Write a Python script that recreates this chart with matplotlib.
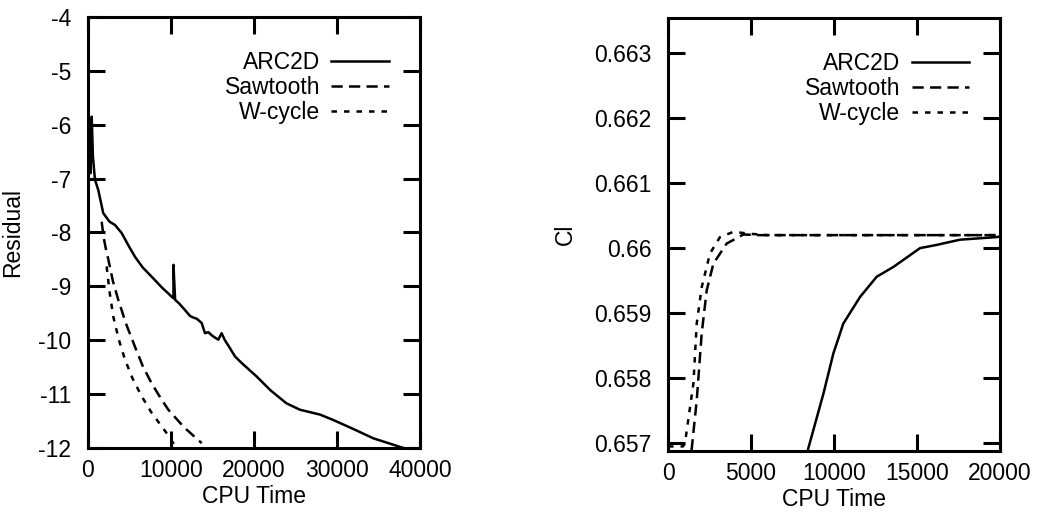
import numpy as np
import matplotlib.pyplot as plt

plt.rcParams["font.family"] = ["Liberation Sans", "DejaVu Sans"]
plt.rcParams["font.size"] = 16.5
plt.rcParams["axes.unicode_minus"] = False

# residual history (left panel)
arc_res_t = [0, 150, 300, 450, 600, 843, 1240, 1840, 2600, 3250, 4060, 4800, 5660, 6600,
             7670, 8900, 10080, 10300, 10300, 10500, 11000, 11690, 12300, 12700, 13100,
             13700, 14100, 14500, 15000, 15700, 15900, 16100, 16500, 17000, 17710,
             18500, 20300, 22000, 23900, 25540, 27950, 29550, 32000, 34370, 38000]
arc_res = [-7.0, -6.1, -6.9, -5.85, -6.6, -7.02, -7.21, -7.64, -7.8, -7.86, -8.01, -8.22, -8.45, -8.65,
           -8.82, -9.02, -9.19, -9.22, -8.6, -9.25, -9.32, -9.44, -9.55, -9.58, -9.6,
           -9.68, -9.87, -9.85, -9.92, -9.99, -9.93, -9.87, -10.0, -10.12, -10.30,
           -10.42, -10.67, -10.93, -11.17, -11.29, -11.38, -11.48, -11.65, -11.82, -12.0]

saw_res_t = [1650, 1900, 2150, 2450, 3000, 3650, 4600, 5660, 6600, 7670, 8700, 9680, 11600, 13700]
saw_res = [-7.8, -8.1, -8.3, -8.5, -8.9, -9.25, -9.7, -10.12, -10.48, -10.8, -11.06, -11.29, -11.62, -11.91]

w_res_t = [2250, 2600, 3050, 3700, 4460, 5400, 6470, 7600, 8880, 9600, 10280, 10600]
w_res = [-8.63, -9.1, -9.56, -9.98, -10.36, -10.72, -11.04, -11.33, -11.6, -11.75, -11.91, -12.0]

# lift coefficient history (right panel)
arc_cl_t = [8200, 8450, 9360, 9960, 10560, 11570, 12570, 13570, 15180, 16190, 17590, 19800, 20000]
arc_cl = [0.6566, 0.65692, 0.65776, 0.65838, 0.65884, 0.65925, 0.65956, 0.65971,
          0.66000, 0.66005, 0.66013, 0.66017, 0.66018]

saw_cl_t = [0, 1300, 1430, 1730, 2030, 2330, 2730, 3530, 4540, 5500, 20000]
saw_cl = [0.6566, 0.6567, 0.65692, 0.65766, 0.65869, 0.65935, 0.65976, 0.66007, 0.66021, 0.6602, 0.6602]

w_cl_t = [0, 900, 1020, 1530, 1730, 2030, 2530, 3130, 3930, 5000, 6000, 20000]
w_cl = [0.65695, 0.65695, 0.657, 0.65792, 0.65884, 0.6594, 0.65992, 0.66017, 0.66025, 0.66022, 0.6602, 0.6602]

labels = ["ARC2D", "Sawtooth", "W-cycle"]
styles = ["-", (0, (4.5, 2.5)), (0, (2.2, 2.8))]


def style_axes(ax):
    for s in ax.spines.values():
        s.set_linewidth(2.2)
    ax.tick_params(direction="in", length=12, width=2.2, top=True, right=True,
                   pad=8, labelsize=16.5)
    ax.tick_params(axis="y", pad=12)


def add_legend(ax):
    ax.legend(loc="upper right", frameon=False, markerfirst=False, handlelength=2.5,
              handletextpad=0.5, labelspacing=0.1, borderaxespad=0.6,
              bbox_to_anchor=(0.975, 0.975), fontsize=16.5)


fig = plt.figure(figsize=(10.51, 5.17), dpi=100)
ax1 = fig.add_axes([0.0837, 0.1335, 0.3159, 0.8336])
ax2 = fig.add_axes([0.6356, 0.1277, 0.3159, 0.8375])

for t, v, lab, ls in zip([arc_res_t, saw_res_t, w_res_t], [arc_res, saw_res, w_res], labels, styles):
    ax1.plot(t, v, color="black", linestyle=ls, linewidth=1.8, label=lab)
ax1.set_xlim(0, 40000)
ax1.set_ylim(-12, -4)
ax1.set_xticks([0, 10000, 20000, 30000, 40000])
ax1.set_yticks(np.arange(-12, -3, 1))
ax1.set_xlabel("CPU Time", labelpad=2)
ax1.set_ylabel("Residual", labelpad=10)
style_axes(ax1)
add_legend(ax1)

for t, v, lab, ls in zip([arc_cl_t, saw_cl_t, w_cl_t], [arc_cl, saw_cl, w_cl], labels, styles):
    ax2.plot(t, v, color="black", linestyle=ls, linewidth=1.8, label=lab)
ax2.set_xlim(0, 20000)
ax2.set_ylim(0.65688, 0.66354)
ax2.set_xticks([0, 5000, 10000, 15000, 20000])
ax2.set_yticks([0.657, 0.658, 0.659, 0.66, 0.661, 0.662, 0.663])
ax2.set_yticklabels(["0.657", "0.658", "0.659", "0.66", "0.661", "0.662", "0.663"])
ax2.set_xlabel("CPU Time", labelpad=2)
ax2.set_ylabel("Cl", labelpad=12)
style_axes(ax2)
add_legend(ax2)

fig.savefig("out.png", dpi=100)
